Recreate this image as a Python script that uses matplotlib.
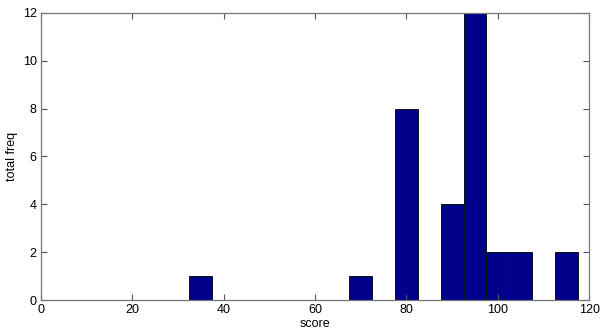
import matplotlib
matplotlib.use("Agg")
import matplotlib.pyplot as plt

bin_centers = [35, 70, 80, 90, 95, 100, 105, 115]
counts = [1, 1, 8, 4, 12, 2, 2, 2]
bin_width = 5
x_ticks = [0, 20, 40, 60, 80, 100, 120]
y_ticks = [0, 2, 4, 6, 8, 10, 12]

plt.rcParams['font.family'] = ['Liberation Sans', 'DejaVu Sans']
fig = plt.figure(figsize=(6, 3.35), dpi=100)
ax = fig.add_axes([0.068, 0.104, 0.914, 0.858])
ax.bar(bin_centers, counts, width=bin_width, color='#00008a', edgecolor='#111111', linewidth=0.7)
ax.set_xlim(0, 120)
ax.set_ylim(0, 12)
ax.set_xticks(x_ticks)
ax.set_yticks(y_ticks)
ax.tick_params(direction='in', top=True, right=True, labelsize=9, length=4, color='#555555', pad=3)
for s in ax.spines.values():
    s.set_color('#777777')
    s.set_linewidth(0.9)
ax.set_xlabel('score', fontsize=9, labelpad=1)
ax.set_ylabel('total freq', fontsize=9, labelpad=3)
fig.savefig('out.png', dpi=100)
